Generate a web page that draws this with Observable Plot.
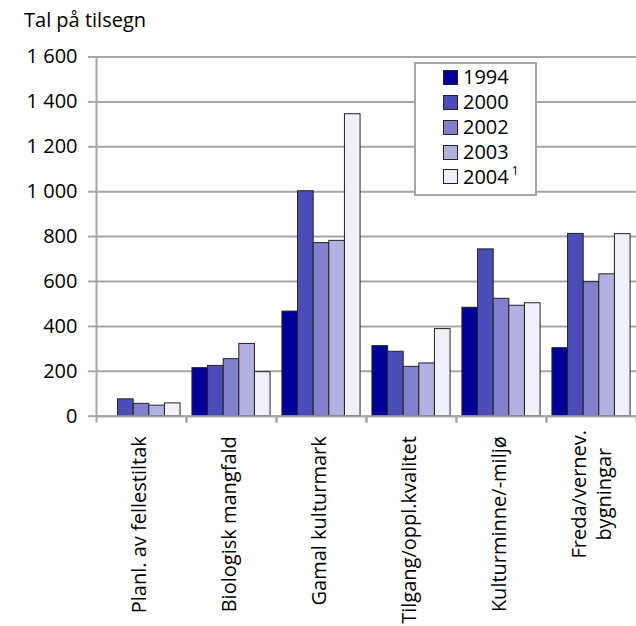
<!DOCTYPE html>
<html>
<head>
<meta charset="utf-8">
<script src="https://cdn.jsdelivr.net/npm/d3@7"></script>
<script src="https://cdn.jsdelivr.net/npm/@observablehq/plot@0.6"></script>
<style>
  body { margin: 0; background: white; }
  #root { position: relative; width: 636px; height: 626px; overflow: hidden; font-family: 'Open Sans', sans-serif; color: black; }
  #title { position: absolute; left: 24px; top: 10px; font-size: 20px; line-height: 20px; white-space: nowrap; }
  #chart { position: absolute; left: 0; top: 36px; }
  #legend { position: absolute; left: 414px; top: 62px; width: 123px; height: 134px; box-sizing: border-box;
            border: 2px solid #a6a6a6; background: white; padding-top: 1.4px; font-size: 20px; }
  .row { height: 24.8px; display: flex; align-items: center; line-height: 24.8px; }
  .sw { width: 13px; height: 13px; border: 1px solid #222; margin-left: 27px; margin-right: 5px; }
  sup { font-size: 12px; line-height: 0; vertical-align: 9px; margin-left: 3px; }
</style>
</head>
<body>
<div id="root">
  <div id="title">Tal på tilsegn</div>
  <div id="chart"></div>
  <div id="legend"></div>
</div>
<script>
// ---- data ----
const categories = [
  "Planl. av fellestiltak",
  "Biologisk mangfald",
  "Gamal kulturmark",
  "Tilgang/oppl.kvalitet",
  "Kulturminne/-miljø",
  "Freda/vernev.\nbygningar"
];
const years = ["1994", "2000", "2002", "2003", "2004"];
const yearLabels = ["1994", "2000", "2002", "2003", "2004"];
const yearNotes = ["", "", "", "", "1"];
const s1994 = [null, 214, 466, 312, 483, 303];
const s2000 = [75, 224, 1002, 287, 743, 812];
const s2002 = [55, 254, 771, 220, 523, 597];
const s2003 = [47, 322, 781, 235, 492, 632];
const s2004 = [57, 196, 1345, 388, 503, 811];
const yTicks = [0, 200, 400, 600, 800, 1000, 1200, 1400, 1600];
const colors = ["#000099", "#4b4db8", "#8080cc", "#b2b2e0", "#f0f0fa"];

const series = [s1994, s2000, s2002, s2003, s2004];
const table = [];
categories.forEach((c, ci) => {
  years.forEach((y, yi) => {
    const v = series[yi][ci];
    if (v != null) table.push({cat: c, year: y, yi, value: v});
  });
});

const grey = "#a6a6a6";
const pad = 0.38;
const xMax = years.length + 2 * pad;
const lastCat = categories[categories.length - 1];
const fmt = d => d3.format(",")(d).replace(/,/g, " ");

const chart = Plot.plot({
  width: 636,
  height: 590,
  marginTop: 20.5,
  marginBottom: 210.3,
  marginLeft: 93.5,
  marginRight: -2.5,
  style: {fontFamily: "'Open Sans', sans-serif", fontSize: "20px", color: "black", background: "transparent"},
  fx: {domain: categories, padding: 0, label: null},
  x: {domain: [0, xMax], label: null},
  y: {domain: [0, yTicks[yTicks.length - 1]], label: null},
  color: {domain: years, range: colors},
  marks: [
    Plot.gridY(yTicks, {stroke: grey, strokeOpacity: 1, strokeWidth: 2}),
    Plot.rectY(table, {
      fx: "cat",
      x1: d => d.yi + pad,
      x2: d => d.yi + pad + 1,
      y: "value",
      fill: "year",
      stroke: "#222",
      strokeWidth: 1
    }),
    Plot.ruleY([0], {stroke: grey, strokeWidth: 2}),
    Plot.ruleX([{c: categories[0], x: 0}], {fx: "c", x: "x", y1: 0, y2: yTicks[yTicks.length - 1], stroke: grey, strokeWidth: 2}),
    Plot.axisX([0, xMax], {anchor: "bottom", tickSize: 7, stroke: grey, strokeWidth: 2, tickFormat: () => "", label: null}),
    Plot.axisY(yTicks, {anchor: "left", tickSize: 8, tickPadding: 11, tickFormat: fmt, stroke: grey, strokeWidth: 2, fill: "black", label: null}),
    Plot.axisFx({anchor: "bottom", tickRotate: -90, tickSize: 0, tickPadding: 20, dx: -1.5, fill: "black", label: null,
                 tickFormat: d => d === lastCat ? "" : d}),
    Plot.text([lastCat], {
      fx: d => d,
      frameAnchor: "bottom",
      text: d => d,
      rotate: -90,
      textAnchor: "middle",
      lineAnchor: "middle",
      lineHeight: 1.25,
      dy: 78,
      dx: -1.5,
      fill: "black"
    })
  ]
});
document.getElementById("chart").appendChild(chart);

// ---- legend ----
const legend = document.getElementById("legend");
years.forEach((y, i) => {
  const row = document.createElement("div");
  row.className = "row";
  const sw = document.createElement("div");
  sw.className = "sw";
  sw.style.background = colors[i];
  const t = document.createElement("span");
  t.textContent = yearLabels[i];
  if (yearNotes[i]) {
    const s = document.createElement("sup");
    s.textContent = yearNotes[i];
    t.appendChild(s);
  }
  row.appendChild(sw);
  row.appendChild(t);
  legend.appendChild(row);
});
</script>
</body>
</html>
